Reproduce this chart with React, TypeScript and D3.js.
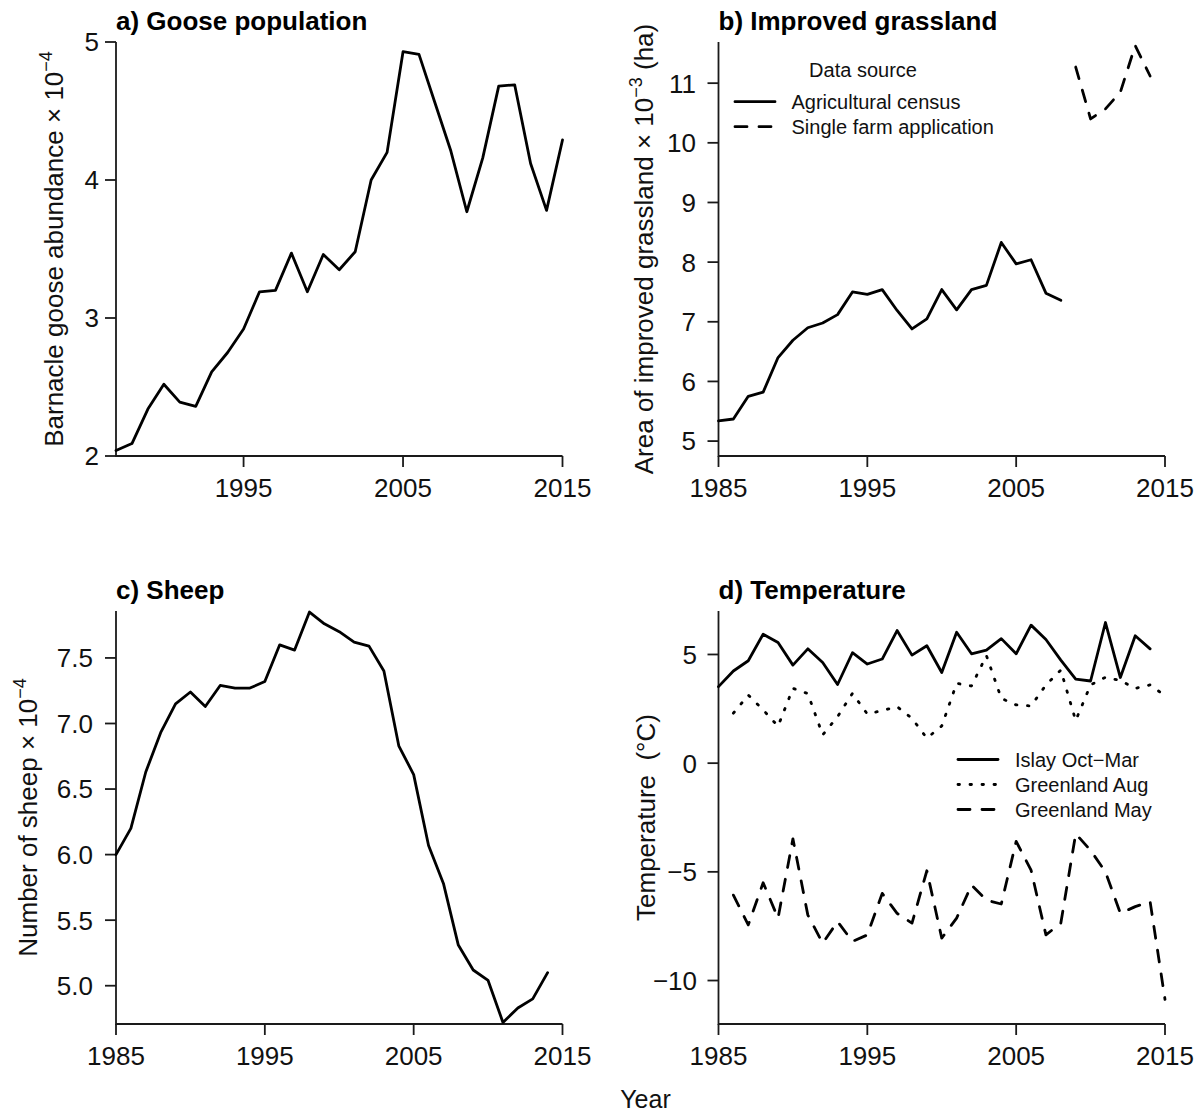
import React from "react";
import * as d3 from "d3";

// ---------- data ----------
const gooseYears = d3.range(1987, 2016);
const gooseAbundance = [2.04, 2.09, 2.34, 2.52, 2.39, 2.36, 2.61, 2.75, 2.92, 3.19, 3.20, 3.47, 3.19, 3.46, 3.35, 3.48, 4.00, 4.20, 4.93, 4.91, 4.56, 4.21, 3.77, 4.16, 4.68, 4.69, 4.12, 3.78, 4.29];

const censusYears = d3.range(1985, 2009);
const censusArea = [5.34, 5.37, 5.75, 5.82, 6.40, 6.69, 6.90, 6.98, 7.12, 7.50, 7.46, 7.54, 7.19, 6.88, 7.05, 7.54, 7.20, 7.54, 7.61, 8.33, 7.97, 8.04, 7.48, 7.36];
const sfaYears = d3.range(2009, 2015);
const sfaArea = [11.27, 10.40, 10.57, 10.85, 11.63, 11.12];

const sheepYears = d3.range(1985, 2015);
const sheepCount = [6.00, 6.20, 6.63, 6.93, 7.15, 7.24, 7.13, 7.29, 7.27, 7.27, 7.32, 7.60, 7.56, 7.85, 7.76, 7.70, 7.62, 7.59, 7.40, 6.83, 6.61, 6.07, 5.78, 5.31, 5.12, 5.04, 4.72, 4.83, 4.90, 5.10];

const islayYears = d3.range(1985, 2015);
const islayOctMar = [3.52, 4.24, 4.71, 5.93, 5.55, 4.51, 5.26, 4.63, 3.62, 5.08, 4.56, 4.79, 6.10, 4.97, 5.40, 4.17, 6.02, 5.03, 5.20, 5.73, 5.03, 6.35, 5.69, 4.74, 3.87, 3.78, 6.47, 3.94, 5.86, 5.26];
const greenlandYears = d3.range(1986, 2016);
const greenlandAug = [2.3, 3.13, 2.45, 1.7, 3.44, 3.2, 1.3, 2.14, 3.21, 2.26, 2.42, 2.6, 2.06, 1.15, 1.71, 3.67, 3.55, 4.95, 2.98, 2.68, 2.63, 3.6, 4.28, 1.96, 3.6, 3.95, 3.8, 3.44, 3.6, 3.1];
const greenlandMay = [-6.07, -7.44, -5.5, -7.13, -3.48, -6.98, -8.28, -7.29, -8.2, -7.9, -5.99, -6.91, -7.36, -4.95, -8.05, -7.13, -5.61, -6.3, -6.48, -3.6, -4.92, -7.9, -7.36, -3.25, -4.01, -5.0, -6.91, -6.6, -6.37, -10.87];

const ticksA = [2, 3, 4, 5];
const ticksB = [5, 6, 7, 8, 9, 10, 11];
const ticksC = [5.0, 5.5, 6.0, 6.5, 7.0, 7.5];
const ticksD = [-10, -5, 0, 5];
const yearTicksA = [1995, 2005, 2015];
const yearTicks = [1985, 1995, 2005, 2015];

// ---------- style ----------
const FONT = "'Liberation Sans', Arial, Helvetica, sans-serif";
const TICK_FS = 26;
const LEG_FS = 20;
const LW = 2.8;
const AX = "#1a1a1a";
const DASH = "12 12";
const DOT = "1.5 10.5";

type Series = { xs: number[]; ys: number[]; dash?: string };

function fmtMinus(v: number, dec = 0) {
  const s = v.toFixed(dec);
  return s.replace("-", "\u2212");
}

function Panel(props: {
  xDomain: [number, number];
  yDomain: [number, number];
  xRange: [number, number];
  yRange: [number, number];
  xTicks: number[];
  yTicks: number[];
  yDec?: number;
  labelEnd: number;
  title: string;
  titleY: number;
  series: Series[];
  children?: React.ReactNode;
}) {
  const x = d3.scaleLinear().domain(props.xDomain).range(props.xRange);
  const y = d3.scaleLinear().domain(props.yDomain).range(props.yRange);
  const [x0, x1] = props.xRange;
  const [yb, yt] = props.yRange;
  const line = d3
    .line<[number, number]>()
    .x((d) => x(d[0]))
    .y((d) => y(d[1]));
  return (
    <g>
      <text x={x0} y={props.titleY} fontFamily={FONT} fontSize={26} fontWeight="bold" fill="#000">
        {props.title}
      </text>
      {/* L box */}
      <path d={`M${x0},${yt}V${yb}H${x1}`} fill="none" stroke={AX} strokeWidth={1.8} />
      {props.yTicks.map((t) => (
        <g key={"y" + t}>
          <line x1={x0 - 11} x2={x0} y1={y(t)} y2={y(t)} stroke={AX} strokeWidth={1.8} />
          <text
            x={props.labelEnd}
            y={y(t) + 9.4}
            textAnchor="end"
            fontFamily={FONT}
            fontSize={TICK_FS}
            fill="#111"
          >
            {fmtMinus(t, props.yDec ?? 0)}
          </text>
        </g>
      ))}
      {props.xTicks.map((t) => (
        <g key={"x" + t}>
          <line x1={x(t)} x2={x(t)} y1={yb} y2={yb + 11} stroke={AX} strokeWidth={1.8} />
          <text x={x(t)} y={yb + 41} textAnchor="middle" fontFamily={FONT} fontSize={TICK_FS} fill="#111">
            {t}
          </text>
        </g>
      ))}
      {props.series.map((s, i) => (
        <path
          key={i}
          d={line(s.xs.map((xv, j) => [xv, s.ys[j]]) as [number, number][]) || ""}
          fill="none"
          stroke="#000"
          strokeWidth={LW}
          strokeLinejoin="round"
          strokeLinecap="round"
          strokeDasharray={s.dash}
        />
      ))}
      {props.children}
    </g>
  );
}

function LegendRow(props: { x1: number; x2: number; y: number; tx: number; label: string; dash?: string }) {
  return (
    <g>
      <line
        x1={props.x1}
        x2={props.x2}
        y1={props.y}
        y2={props.y}
        stroke="#000"
        strokeWidth={LW}
        strokeLinecap="round"
        strokeDasharray={props.dash}
      />
      <text x={props.tx} y={props.y + 7} fontFamily={FONT} fontSize={LEG_FS} fill="#111">
        {props.label}
      </text>
    </g>
  );
}

function YTitle(props: { x: number; cy: number; children: React.ReactNode }) {
  return (
    <text
      transform={`translate(${props.x},${props.cy}) rotate(-90)`}
      textAnchor="middle"
      fontFamily={FONT}
      fontSize={TICK_FS}
      fill="#111"
      style={{ whiteSpace: "pre" }}
    >
      {props.children}
    </text>
  );
}

export default function App() {
  const leftX: [number, number] = [116, 562.5];
  const rightX: [number, number] = [718.5, 1165];
  const topY: [number, number] = [456, 42];
  const botY: [number, number] = [1024, 611];
  return (
    <svg
      width={1204}
      height={1113}
      viewBox="0 0 1204 1113"
      style={{ position: "absolute", left: 0, top: 0, background: "#fff" }}
    >
      <rect width={1204} height={1113} fill="#fff" />
      {/* a */}
      <Panel
        xDomain={[1987, 2015]}
        yDomain={[2, 5]}
        xRange={leftX}
        yRange={topY}
        xTicks={yearTicksA}
        yTicks={ticksA}
        labelEnd={99}
        title="a) Goose population"
        titleY={29.5}
        series={[{ xs: gooseYears, ys: gooseAbundance }]}
      />
      <YTitle x={62.5} cy={249}>
        <tspan>Barnacle goose abundance × 10</tspan>
        <tspan dy={-11} fontSize={18}>−4</tspan>
      </YTitle>

      {/* b */}
      <Panel
        xDomain={[1985, 2015]}
        yDomain={[4.75, 11.69]}
        xRange={rightX}
        yRange={topY}
        xTicks={yearTicks}
        yTicks={ticksB}
        labelEnd={696}
        title="b) Improved grassland"
        titleY={29.5}
        series={[
          { xs: censusYears, ys: censusArea },
          { xs: sfaYears, ys: sfaArea, dash: DASH },
        ]}
      >
        <text x={863} y={77} textAnchor="middle" fontFamily={FONT} fontSize={LEG_FS} fill="#111">
          Data source
        </text>
        <LegendRow x1={735} x2={775} y={101.7} tx={791.5} label="Agricultural census" />
        <LegendRow x1={735} x2={775} y={126.7} tx={791.5} label="Single farm application" dash={DASH} />
      </Panel>
      <YTitle x={653} cy={249}>
        <tspan>Area of improved grassland × 10</tspan>
        <tspan dy={-11} fontSize={18}>−3</tspan>
        <tspan dy={11}> (ha)</tspan>
      </YTitle>

      {/* c */}
      <Panel
        xDomain={[1985, 2015]}
        yDomain={[4.708, 7.858]}
        xRange={leftX}
        yRange={botY}
        xTicks={yearTicks}
        yTicks={ticksC}
        yDec={1}
        labelEnd={93}
        title="c) Sheep"
        titleY={598.5}
        series={[{ xs: sheepYears, ys: sheepCount }]}
      />
      <YTitle x={36.7} cy={817.5}>
        <tspan>Number of sheep × 10</tspan>
        <tspan dy={-11} fontSize={18}>−4</tspan>
      </YTitle>

      {/* d */}
      <Panel
        xDomain={[1985, 2015]}
        yDomain={[-12, 7]}
        xRange={rightX}
        yRange={botY}
        xTicks={yearTicks}
        yTicks={ticksD}
        labelEnd={697}
        title="d) Temperature"
        titleY={598.5}
        series={[
          { xs: islayYears, ys: islayOctMar },
          { xs: greenlandYears, ys: greenlandAug, dash: DOT },
          { xs: greenlandYears, ys: greenlandMay, dash: DASH },
        ]}
      >
        <LegendRow x1={958} x2={998} y={759.5} tx={1015} label="Islay Oct−Mar" />
        <LegendRow x1={958} x2={998} y={784.5} tx={1015} label="Greenland Aug" dash={DOT} />
        <LegendRow x1={958} x2={998} y={809.5} tx={1015} label="Greenland May" dash={DASH} />
      </Panel>
      <YTitle x={655} cy={817.5}>
        {"Temperature  (°C)"}
      </YTitle>

      <text x={645.5} y={1108} textAnchor="middle" fontFamily={FONT} fontSize={25} fill="#111">
        Year
      </text>
    </svg>
  );
}
